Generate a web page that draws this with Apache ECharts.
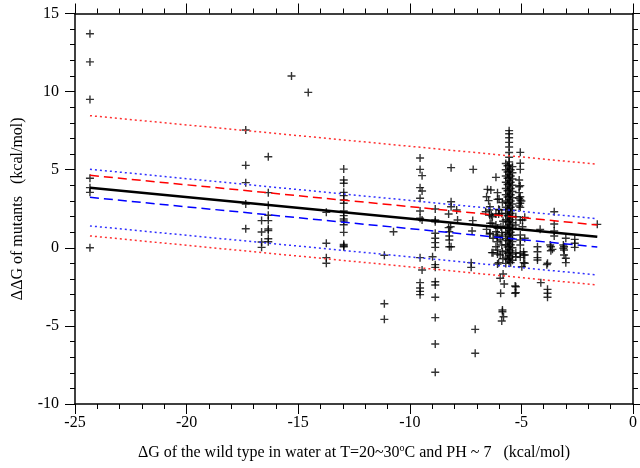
<!DOCTYPE html>
<html><head><meta charset="utf-8">
<script src="https://cdn.jsdelivr.net/npm/echarts@6/dist/echarts.min.js"></script>
<style>html,body{margin:0;padding:0;background:#fff}#c{width:640px;height:468px}</style>
</head><body><div id="c"></div>
<script>
// ---- data ----
const ptsFarLeft = [[-24.33,13.7],[-24.33,11.9],[-24.33,9.5],[-24.33,4.45],[-24.33,3.85],[-24.33,3.55],[-24.33,0.0]];
const ptsM17 = [[-17.35,7.54],[-17.35,5.28],[-17.35,4.17],[-17.35,2.80],[-17.35,1.22],
  [-16.64,1.74],[-16.64,1.01],[-16.64,0.37],[-16.64,0.03],
  [-16.34,5.83],[-16.34,3.53],[-16.34,2.72],[-16.34,2.08],[-16.34,1.74],[-16.34,1.2],[-16.34,1.1],[-16.34,0.58],[-16.34,0.39]];
const ptsM15 = [[-15.3,11.0],[-14.55,9.95]];
const ptsM13 = [[-13.74,2.27],[-13.74,0.29],[-13.74,-0.63],[-13.74,-0.99],
  [-12.96,5.04],[-12.96,4.34],[-12.96,4.13],[-12.96,3.55],[-12.96,3.34],[-12.96,3.06],[-12.96,2.85],[-12.96,2.36],
  [-12.96,2.06],[-12.96,1.84],[-12.96,1.72],[-12.96,1.48],[-12.96,0.99],[-12.96,0.22],[-12.96,0.13],[-12.96,0.07]];
const ptsM11 = [[-11.14,-0.48],[-11.14,-3.58],[-11.14,-4.58],[-10.73,1.03]];
const ptsM9 = [[-9.54,5.75],[-9.54,5.02],[-9.54,3.85],[-9.54,3.17],[-9.54,2.36],[-9.54,1.89],[-9.54,-0.63],[-9.54,-2.23],
  [-9.54,-2.57],[-9.54,-2.79],[-9.54,-3.00],[-9.45,4.62],[-9.45,3.64],[-9.45,1.78],[-9.45,-1.42],
  [-8.86,2.48],[-8.86,1.78],[-8.86,1.67],[-8.86,0.93],[-8.86,0.61],[-8.86,0.33],[-8.86,0.03],[-8.86,-1.08],[-8.86,-1.25],
  [-8.86,-2.17],[-8.86,-2.38],[-8.86,-3.17],[-8.86,-4.47],[-8.86,-6.16],[-8.86,-7.97],[-8.98,-0.57]];
const ptsM8 = [[-8.15,5.13],[-8.15,2.95],[-8.15,2.63],[-8.26,2.16],[-8.26,1.29],[-8.23,1.03],[-8.23,0.76],[-8.23,0.50],
  [-8.23,0.07],[-8.15,0.07],[-7.9,2.42],[-7.86,1.78],[-8.17,1.35],
  [-7.16,5.02],[-7.18,1.74],[-7.21,1.08],[-7.25,-0.95],[-7.25,-1.25],[-7.07,-5.22],[-7.07,-6.75]];
const ptsM6 = [[-6.52,3.74],[-6.56,3.27],[-6.47,3.02],[-6.6,2.31],[-6.42,2.10],[-6.56,1.18],[-6.42,0.88],[-6.27,0.61],
  [-6.27,-0.31],[-6.14,4.51],[-6.07,3.53],[-6.07,3.10],[-6.41,2.63],[-6.44,2.42],[-6.3,1.99],[-6.14,2.16],[-6.02,2.46],
  [-6.02,2.16],[-6.14,1.46],[-6.07,1.25],[-6.14,1.03],[-6.07,0.71],[-6.07,0.39],[-6.14,0.07],[-6.07,-0.14],[-6.07,-0.40],
  [-6.32,-0.31],[-6.02,-0.95],[-6.07,-1.04],[-6.37,3.70],[-6.4,1.57],[-6.4,0.93],
  [-6.0,3.12],[-5.98,2.42],[-6.35,2.10],[-6.32,1.57],[-5.92,1.35],[-5.88,0.97],[-6.1,0.82],[-5.95,0.50],[-5.88,0.18],
  [-5.85,-0.25],[-5.95,-0.46],[-5.85,2.9],[-5.88,2.2],[-5.82,1.7],[-5.85,0.75],[-5.83,-0.7]];
const ptsColumn = [
  [-5.55,7.5],[-5.55,7.3],[-5.55,7.05],[-5.55,6.75],[-5.55,6.45],[-5.55,6.1],[-5.55,5.8],[-5.55,5.5],[-5.55,5.3],[-5.55,5.1],
  [-5.55,4.9],[-5.55,4.7],[-5.55,4.5],[-5.55,4.3],[-5.55,4.1],[-5.55,3.9],[-5.55,3.7],[-5.55,3.5],[-5.55,3.3],[-5.55,3.1],
  [-5.55,2.9],[-5.55,2.7],[-5.55,2.5],[-5.55,2.3],[-5.55,2.1],[-5.55,1.9],[-5.55,1.7],[-5.55,1.5],[-5.55,1.3],[-5.55,1.1],
  [-5.55,0.9],[-5.55,0.7],[-5.55,0.5],[-5.55,0.3],[-5.55,0.1],[-5.55,-0.1],[-5.55,-0.3],[-5.55,-0.5],[-5.55,-0.7],[-5.55,-0.9],
  [-5.7,5.4],[-5.7,5.0],[-5.7,4.6],[-5.7,4.2],[-5.7,3.8],[-5.7,3.4],[-5.7,3.0],[-5.7,2.6],[-5.7,2.2],[-5.7,1.8],[-5.7,1.4],
  [-5.7,1.0],[-5.7,0.6],[-5.7,0.2],[-5.7,-0.2],[-5.7,-0.6],[-5.7,-1.0],
  [-5.4,5.2],[-5.4,4.8],[-5.4,4.4],[-5.4,4.0],[-5.4,3.6],[-5.4,3.2],[-5.4,2.8],[-5.4,2.4],[-5.4,2.0],[-5.4,1.6],[-5.4,1.2],
  [-5.4,0.8],[-5.4,0.4],[-5.4,0.0],[-5.4,-0.4],[-5.4,-0.8],
  [-5.62,5.25],[-5.62,4.85],[-5.62,4.45],[-5.62,4.05],[-5.62,3.65],[-5.62,3.25],[-5.62,2.85],[-5.62,2.45],[-5.62,2.05],
  [-5.62,1.65],[-5.62,1.25],[-5.62,0.85],[-5.62,0.45],[-5.62,0.05],[-5.62,-0.35],[-5.62,-0.75],
  [-5.48,5.0],[-5.48,4.6],[-5.48,4.2],[-5.48,3.8],[-5.48,3.4],[-5.48,3.0],[-5.48,2.6],[-5.48,2.2],[-5.48,1.8],[-5.48,1.4],
  [-5.48,1.0],[-5.48,0.6],[-5.48,0.2],[-5.48,-0.2],[-5.48,-0.6],[-5.48,-0.95]];
const ptsBelowColumn = [[-5.82,-1.68],[-5.95,-1.95],[-5.77,-2.32],[-5.93,-2.91],[-5.85,-3.98],[-5.85,-4.09],[-5.8,-4.41],
  [-5.88,-4.69],[-5.28,-2.45],[-5.28,-2.91],[-5.25,-2.49],[-5.25,-2.87]];
const ptsM5 = [[-5.05,6.11],[-5.05,5.41],[-5.05,5.02],[-5.05,3.98],[-5.05,3.27],[-5.05,3.06],[-5.05,2.85],[-5.05,2.59],
  [-5.05,1.78],[-5.05,0.82],[-5.05,0.50],[-5.05,0.18],[-5.05,-0.35],[-5.05,-0.61],
  [-5.1,4.34],[-5.1,3.91],[-5.1,3.53],[-5.1,3.17],[-5.0,3.0],[-5.1,2.68],[-5.25,1.99],[-4.95,1.78],[-5.25,1.46],[-4.95,1.35],
  [-4.9,-0.25],[-4.9,-0.46],[-4.9,-0.95],[-5.25,-0.31],[-5.25,-0.57],[-4.98,-1.21],[-4.85,1.95],[-4.85,0.61],[-4.85,-0.46],[-4.85,-0.99]];
const ptsRight = [[-4.28,0.07],[-4.28,-0.25],[-4.28,-0.63],[-4.28,-0.78],[-4.16,1.18],[-4.13,-2.23],[-3.86,-1.08],[-3.83,-0.99],
  [-3.83,-2.66],[-3.83,-2.91],[-3.83,-3.17],[-3.71,0.18],[-3.61,-0.10],[-3.68,0.07],[-3.68,-0.19],[-3.53,2.31],[-3.53,1.52],
  [-3.53,1.08],[-3.53,0.76],[-3.12,0.18],[-3.12,-0.03],[-3.01,0.61],[-3.09,0.07],[-3.09,-0.14],[-3.09,-0.46],[-3.01,-0.67],
  [-3.01,-0.95],[-2.61,0.54],[-2.61,0.29],[-2.61,0.03],[-1.6,1.50]];

// fit lines: y at x = fitX[0] and fitX[1]
const fitX = [-24.33, -1.6];
const fitBlack = [3.85, 0.71];
const redDash = [4.64, 1.46];
const blueDash = [3.23, 0.05];
const redDotUp = [8.46, 5.35];
const blueDotUp = [5.03, 1.86];
const blueDotLow = [1.40, -1.74];
const redDotLow = [0.76, -2.38];

const xTicks = [-25, -20, -15, -10, -5, 0];
const yTicks = [-10, -5, 0, 5, 10, 15];

// ---- chart ----
const allPts = [].concat(ptsFarLeft, ptsM17, ptsM15, ptsM13, ptsM11, ptsM9, ptsM8, ptsM6, ptsColumn, ptsBelowColumn, ptsM5, ptsRight);
const FONT = 'Liberation Serif';
const plus = 'path://M3.3,0H4.7V3.3H8V4.7H4.7V8H3.3V4.7H0V3.3H3.3Z';
function seg(ys){ return [[fitX[0], ys[0]], [fitX[1], ys[1]]]; }
function lineSeries(ys, color, width, type){
  return {type:'line', data: seg(ys), showSymbol:false, symbol:'none', silent:true, z:5,
    lineStyle:{color:color, width:width, type:type}};
}
const axisCommon = {
  type:'value',
  axisLine:{onZero:false, lineStyle:{color:'#000', width:1.5}},
  axisTick:{show:true, inside:false, length:10, lineStyle:{color:'#000', width:1}},
  minorTick:{show:true, splitNumber:5, length:5, lineStyle:{color:'#000', width:1}},
  splitLine:{show:false},
  minorSplitLine:{show:false}
};
const chart = echarts.init(document.getElementById('c'), null, {renderer:'canvas'});
chart.setOption({
  animation:false,
  backgroundColor:'#fff',
  grid:{left:75, right:6, top:13.5, bottom:64, containLabel:false},
  xAxis:[
    Object.assign({}, axisCommon, {min:xTicks[0], max:xTicks[xTicks.length-1], interval:5, position:'bottom',
      axisLabel:{show:true, margin:11, color:'#000', fontFamily:FONT, fontSize:16},
      name:'ΔG of the wild type in water at T=20~30{sup|o}C and PH ~ 7   (kcal/mol)',
      nameLocation:'middle', nameGap:39,
      nameTextStyle:{color:'#000', fontFamily:FONT, fontSize:16,
        rich:{sup:{fontFamily:FONT, fontSize:10, color:'#000', padding:[0,0,10,0]}}}}),
    Object.assign({}, axisCommon, {min:xTicks[0], max:xTicks[xTicks.length-1], interval:5, position:'top',
      axisLabel:{show:false}})
  ],
  yAxis:[
    Object.assign({}, axisCommon, {min:yTicks[0], max:yTicks[yTicks.length-1], interval:5, position:'left',
      axisLabel:{show:true, margin:16, color:'#000', fontFamily:FONT, fontSize:16},
      name:'ΔΔG of mutants   (kcal/mol)', nameLocation:'middle', nameGap:49, nameRotate:90,
      nameTextStyle:{color:'#000', fontFamily:FONT, fontSize:16}}),
    Object.assign({}, axisCommon, {min:yTicks[0], max:yTicks[yTicks.length-1], interval:5, position:'right',
      axisLabel:{show:false}})
  ],
  series:[
    {type:'scatter', data: allPts, symbol: plus, symbolSize:8, z:3, silent:true,
      itemStyle:{color:'#000', opacity:0.8}},
    lineSeries(redDotUp, '#ff3030', 1.5, [2,3]),
    lineSeries(blueDotUp, '#3030ff', 1.5, [2,3]),
    lineSeries(blueDotLow, '#3030ff', 1.5, [2,3]),
    lineSeries(redDotLow, '#ff3030', 1.5, [2,3]),
    lineSeries(redDash, '#ff0000', 1.5, [9,5]),
    lineSeries(blueDash, '#0000ff', 1.5, [9,5]),
    lineSeries(fitBlack, '#000', 2.5, 'solid')
  ]
});
</script></body></html>
